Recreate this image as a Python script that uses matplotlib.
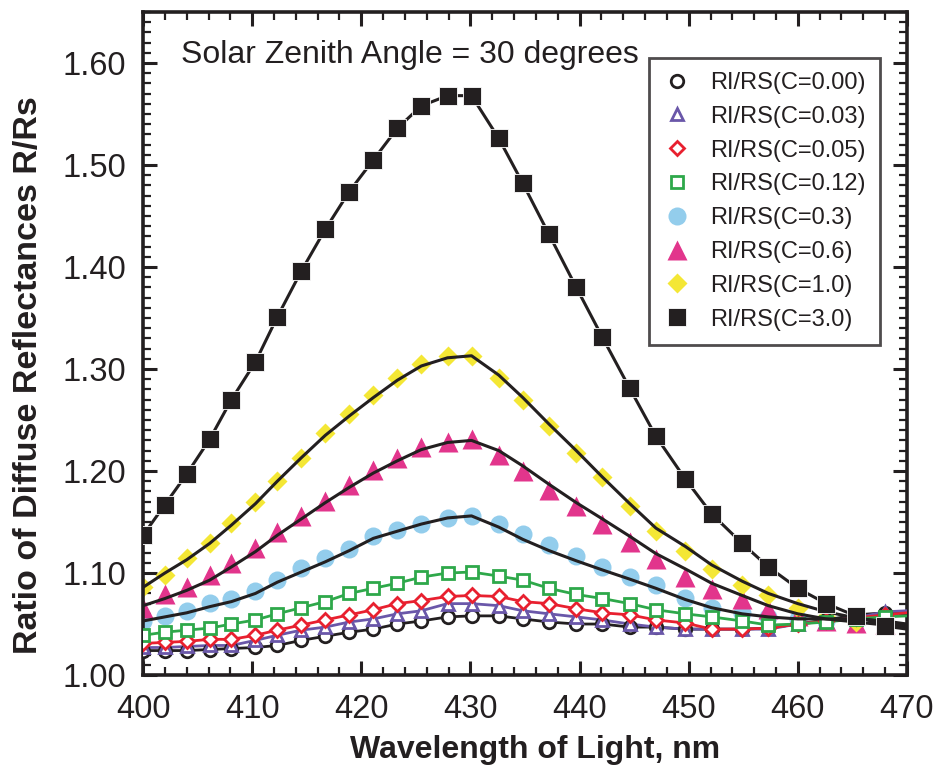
import numpy as np
import matplotlib
matplotlib.use("Agg")
import matplotlib.pyplot as plt
from matplotlib.ticker import MultipleLocator, FormatStrFormatter

plt.rcParams['font.family'] = ['Liberation Sans', 'DejaVu Sans']

# wavelengths of the measured points (nm)
wl = [400.0, 402.0, 404.0, 406.1, 408.1, 410.3, 412.3, 414.5, 416.7, 418.9,
      421.1, 423.3, 425.5, 427.9, 430.1, 432.6, 434.8, 437.2, 439.7, 442.1,
      444.6, 447.0, 449.7, 452.1, 454.9, 457.3, 460.0, 462.6, 465.3, 468.0]
wl_end = 470.0

c000 = [1.024, 1.024, 1.024, 1.025, 1.026, 1.027, 1.029, 1.034, 1.038, 1.042,
        1.045, 1.050, 1.053, 1.057, 1.058, 1.058, 1.055, 1.052, 1.050, 1.050,
        1.047, 1.047, 1.045, 1.045, 1.045, 1.046, 1.050, 1.054, 1.059, 1.061]
c003 = [1.027, 1.027, 1.028, 1.029, 1.029, 1.034, 1.039, 1.044, 1.047, 1.052,
        1.055, 1.060, 1.063, 1.070, 1.070, 1.068, 1.063, 1.060, 1.057, 1.054,
        1.050, 1.047, 1.045, 1.045, 1.045, 1.045, 1.050, 1.053, 1.056, 1.062]
c005 = [1.031, 1.032, 1.033, 1.035, 1.035, 1.039, 1.044, 1.049, 1.054, 1.059,
        1.064, 1.070, 1.073, 1.077, 1.078, 1.077, 1.072, 1.070, 1.065, 1.061,
        1.059, 1.054, 1.051, 1.045, 1.045, 1.046, 1.050, 1.053, 1.056, 1.059]
c012 = [1.039, 1.042, 1.044, 1.046, 1.050, 1.054, 1.060, 1.066, 1.072, 1.080,
        1.085, 1.090, 1.096, 1.100, 1.101, 1.097, 1.093, 1.085, 1.079, 1.075,
        1.070, 1.064, 1.060, 1.057, 1.053, 1.049, 1.050, 1.052, 1.055, 1.057]
c030 = [1.053, 1.058, 1.063, 1.071, 1.075, 1.082, 1.093, 1.105, 1.115, 1.124,
        1.136, 1.142, 1.148, 1.154, 1.156, 1.148, 1.138, 1.127, 1.117, 1.106,
        1.096, 1.088, 1.076, 1.066, 1.061, 1.057, 1.055, 1.053, 1.053, 1.055]
c060 = [1.066, 1.079, 1.086, 1.098, 1.110, 1.125, 1.140, 1.156, 1.171, 1.186,
        1.201, 1.213, 1.224, 1.228, 1.231, 1.216, 1.200, 1.181, 1.166, 1.148,
        1.130, 1.114, 1.096, 1.084, 1.075, 1.065, 1.058, 1.053, 1.051, 1.050]
c100 = [1.086, 1.098, 1.115, 1.129, 1.149, 1.170, 1.190, 1.213, 1.237, 1.256,
        1.275, 1.291, 1.305, 1.313, 1.313, 1.291, 1.270, 1.244, 1.218, 1.194,
        1.166, 1.141, 1.122, 1.104, 1.088, 1.078, 1.066, 1.057, 1.052, 1.050]
c300 = [1.137, 1.167, 1.197, 1.231, 1.270, 1.307, 1.351, 1.396, 1.437, 1.474,
        1.505, 1.536, 1.558, 1.568, 1.568, 1.526, 1.482, 1.432, 1.380, 1.331,
        1.281, 1.234, 1.192, 1.158, 1.129, 1.106, 1.085, 1.070, 1.058, 1.048]

# fitted black curves (values at wl, plus 470 nm)
fit030 = [1.053, 1.057, 1.061, 1.067, 1.072, 1.080, 1.091, 1.101, 1.111, 1.122,
          1.134, 1.141, 1.148, 1.154, 1.156, 1.145, 1.133, 1.122, 1.112, 1.103,
          1.094, 1.085, 1.074, 1.066, 1.060, 1.057, 1.055, 1.055, 1.055, 1.053, 1.050]
fit060 = [1.068, 1.075, 1.083, 1.093, 1.106, 1.121, 1.137, 1.153, 1.169, 1.184,
          1.198, 1.210, 1.221, 1.228, 1.230, 1.220, 1.205, 1.187, 1.169, 1.153,
          1.136, 1.119, 1.104, 1.090, 1.078, 1.068, 1.060, 1.055, 1.052, 1.049, 1.047]
fit100 = [1.086, 1.100, 1.113, 1.129, 1.147, 1.168, 1.190, 1.213, 1.235, 1.254,
          1.272, 1.289, 1.303, 1.311, 1.313, 1.294, 1.272, 1.246, 1.220, 1.194,
          1.168, 1.144, 1.126, 1.108, 1.092, 1.080, 1.070, 1.062, 1.056, 1.052, 1.049]

# line value at 470 nm for the series drawn through their points
end_vals = {'c000': 1.062, 'c003': 1.063, 'c005': 1.061, 'c012': 1.058, 'c300': 1.045}

labels = ['RI/RS(C=0.00)', 'RI/RS(C=0.03)', 'RI/RS(C=0.05)', 'RI/RS(C=0.12)',
          'RI/RS(C=0.3)', 'RI/RS(C=0.6)', 'RI/RS(C=1.0)', 'RI/RS(C=3.0)']

ink = '#231f20'
fig = plt.figure(figsize=(9.35, 7.65), dpi=100)
ax = fig.add_axes([0.153, 0.1176, 0.817, 0.8667])

wl_line = wl + [wl_end]

def thru(vals, key):
    return vals + [end_vals[key]]

# open-marker series with coloured lines
ax.plot(wl_line, thru(c000, 'c000'), color=ink, lw=2, zorder=3)
m0, = ax.plot(wl, c000, 'o', ms=9, mfc='white', mec=ink, mew=2, zorder=4)
ax.plot(wl_line, thru(c003, 'c003'), color='#6a57a9', lw=2, zorder=3)
m1, = ax.plot(wl, c003, '^', ms=9, mfc='white', mec='#6a57a9', mew=2, zorder=4)
ax.plot(wl_line, thru(c005, 'c005'), color='#e8202f', lw=2, zorder=3)
m2, = ax.plot(wl, c005, 'D', ms=7.5, mfc='white', mec='#e8202f', mew=2, zorder=4)
ax.plot(wl_line, thru(c012, 'c012'), color='#2ea84a', lw=2, zorder=3)
m3, = ax.plot(wl, c012, 's', ms=9, mfc='white', mec='#2ea84a', mew=2, zorder=4)

# filled series with fitted black curves
m4, = ax.plot(wl, c030, 'o', ms=13, color='#93cdec', mec='none', zorder=2)
m5, = ax.plot(wl, c060, '^', ms=14, color='#e2358c', mec='none', zorder=2)
m6, = ax.plot(wl, c100, 'D', ms=10, color='#f4e735', mec='none', zorder=2)
ax.plot(wl_line, fit030, color=ink, lw=2.2, zorder=5)
ax.plot(wl_line, fit060, color=ink, lw=2.2, zorder=5)
ax.plot(wl_line, fit100, color=ink, lw=2.2, zorder=5)

ax.plot(wl_line, thru(c300, 'c300'), color=ink, lw=2.2, zorder=6)
m7, = ax.plot(wl, c300, 's', ms=12.5, color=ink, mec='white', mew=0.6, zorder=7)

ax.set_xlim(400, 470)
ax.set_ylim(1.0, 1.65)
ax.xaxis.set_major_locator(MultipleLocator(10))
ax.xaxis.set_minor_locator(MultipleLocator(2))
ax.yaxis.set_major_locator(MultipleLocator(0.1))
ax.yaxis.set_minor_locator(MultipleLocator(0.01))
ax.yaxis.set_major_formatter(FormatStrFormatter('%.2f'))
ax.tick_params(which='both', direction='in', top=True, right=True, color=ink,
               labelsize=23.5, labelcolor=ink)
ax.tick_params(which='major', length=10, width=2.2)
ax.tick_params(axis='x', which='major', pad=14)
ax.tick_params(axis='y', which='major', pad=12)
ax.tick_params(which='minor', length=6, width=1.6)
for s in ax.spines.values():
    s.set_linewidth(2.6)
    s.set_color(ink)

ax.set_xlabel('Wavelength of Light, nm', fontsize=23, fontweight='bold', color=ink)
ax.set_ylabel('Ratio of Diffuse Reflectances R/Rs', fontsize=24.5, fontweight='bold',
              color=ink)
ax.xaxis.set_label_coords(0.513, -0.09)
ax.yaxis.set_label_coords(-0.13, 0.452)

ax.text(0.05, 0.935, 'Solar Zenith Angle = 30 degrees', transform=ax.transAxes,
        fontsize=23, color=ink, va='center', ha='left')

leg = ax.legend([m0, m1, m2, m3, m4, m5, m6, m7], labels, loc='upper right',
                bbox_to_anchor=(0.965, 0.931), fontsize=17, frameon=True,
                fancybox=False, edgecolor=ink, handlelength=1.2, handletextpad=0.8,
                labelspacing=0.5, borderpad=0.6, borderaxespad=0)
leg.get_frame().set_linewidth(2)
for t in leg.get_texts():
    t.set_color(ink)
leg.set_zorder(10)

fig.savefig('out.png', dpi=100)
